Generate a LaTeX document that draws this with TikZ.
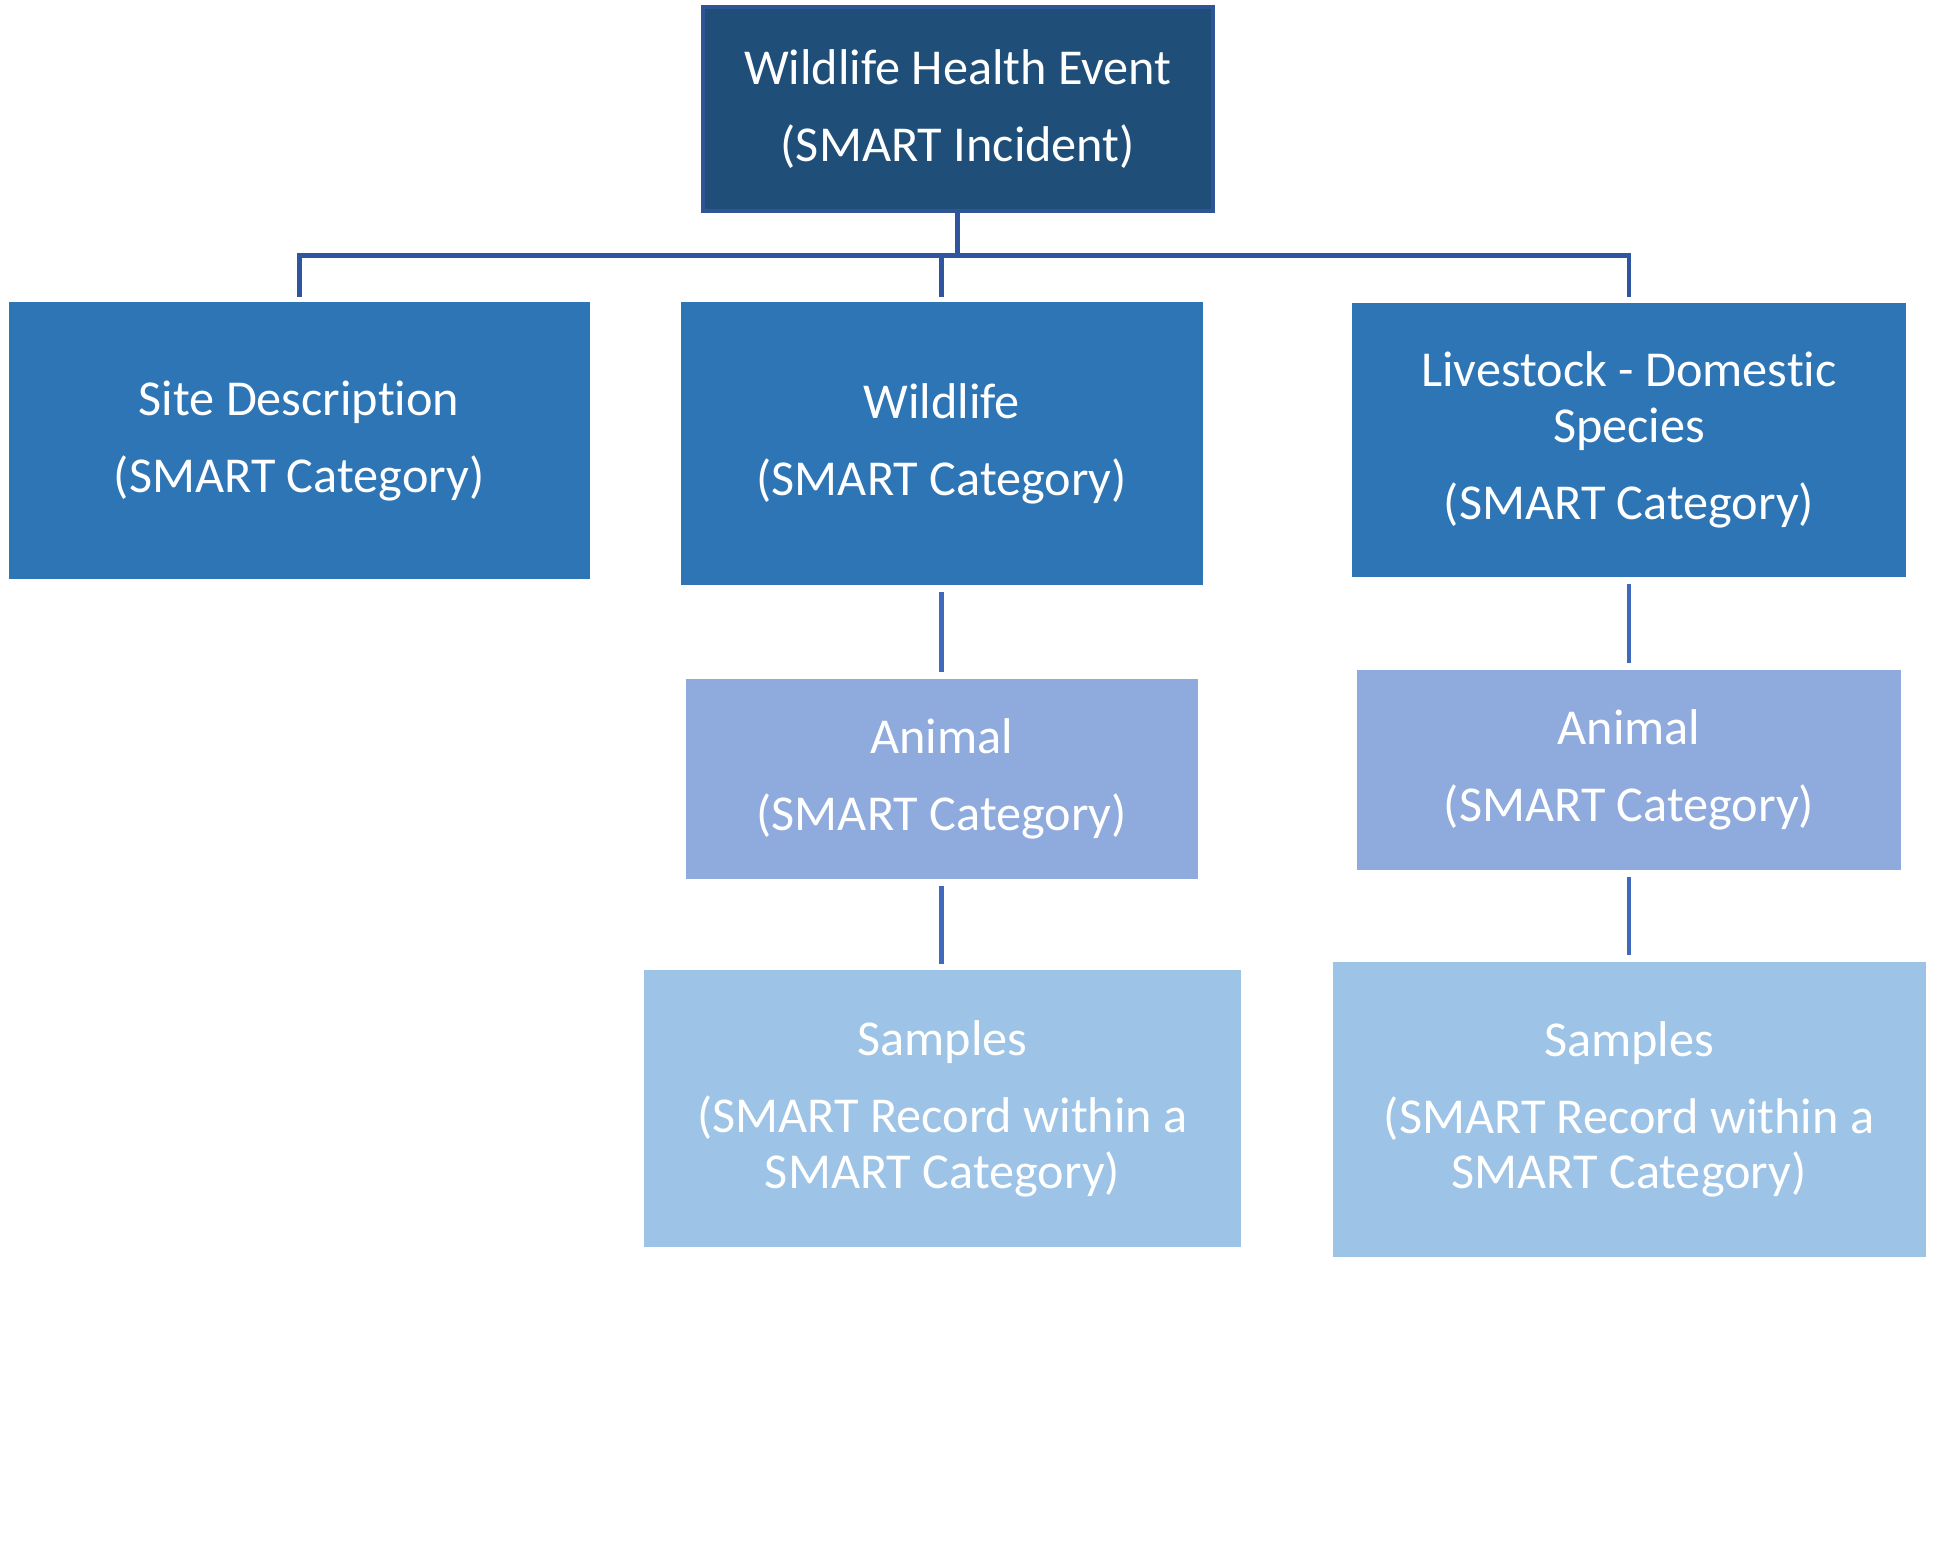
\documentclass[tikz,border=0pt]{standalone}
\usepackage{fontspec}
\setmainfont[RawFeature={-liga;-clig;-calt;-dlig}]{Carlito}
\usepackage{xcolor}
\usepackage{tikz}
\usetikzlibrary{positioning, calc}
\definecolor{eventblue}{HTML}{1F4E79}
\definecolor{eventedge}{HTML}{2F5597}
\definecolor{catblue}{HTML}{2E75B6}
\definecolor{animalblue}{HTML}{8FAADC}
\definecolor{sampleblue}{HTML}{9DC3E6}
\definecolor{busblue}{HTML}{2F55A0}
\definecolor{linkblue}{HTML}{4069BD}
\tikzstyle{box} = [rectangle, text=white, align=center, inner sep=0pt, font=\fontsize{14.3}{15.8}\selectfont]
\tikzstyle{eventbox} = [box, fill=eventblue, draw=eventedge, line width=1.2pt, minimum width=5.10cm, minimum height=2.04cm]
\tikzstyle{catbox} = [box, fill=catblue]
\tikzstyle{animalbox} = [box, fill=animalblue, minimum height=2.0cm]
\tikzstyle{samplebox} = [box, fill=sampleblue]
\tikzstyle{bus} = [draw=busblue, line width=1.4pt]
\tikzstyle{link} = [draw=linkblue, line width=1.4pt, shorten >=0.06cm, shorten <=0.06cm]

\begin{document}
\begin{tikzpicture}[node distance=3.35cm]
        \useasboundingbox (0,0) rectangle (19.38,-15.58);
        % Nodes
        \node (event) [eventbox] at (9.579,-1.088) {Wildlife Health Event\\[6pt](SMART Incident)};
        \node (wild) [catbox, below of=event, xshift=-0.161cm, minimum width=5.22cm, minimum height=2.83cm] {Wildlife\\[6pt](SMART Category)};
        \node (site) [catbox, left of=wild, xshift=-3.077cm, yshift=0.03cm, minimum width=5.81cm, minimum height=2.77cm] {Site Description\\[6pt](SMART Category)};
        \node (live) [catbox, right of=wild, xshift=3.522cm, yshift=0.04cm, minimum width=5.54cm, minimum height=2.74cm] {Livestock - Domestic\\Species\\[6pt](SMART Category)};

        \node (animal1) [animalbox, below of=wild, minimum width=5.12cm] {Animal\\[6pt](SMART Category)};
        \node (samples1) [samplebox, below of=animal1, xshift=0.007cm, yshift=0.05cm, minimum width=5.97cm, minimum height=2.77cm] {Samples\\[6pt](SMART Record within a\\SMART Category)};

        \node (animal2) [animalbox, below of=live, yshift=0.05cm, minimum width=5.44cm] {Animal\\[6pt](SMART Category)};
        \node (samples2) [samplebox, below of=animal2, yshift=-0.045cm, minimum width=5.93cm, minimum height=2.95cm] {Samples\\[6pt](SMART Record within a\\SMART Category)};

        \coordinate (split) at ($(event.south)+(0,-0.43)$);

        % Edges
        \path [bus] (event.south) -- (split);
        \path [bus, shorten <=0.05cm, shorten >=0.05cm] (site.north) |- (split) -| (live.north);
        \path [bus, shorten <=0.05cm] (wild.north) -- (wild.north |- split);

        \path [link] (wild) -- (animal1);
        \path [link] (animal1.south) -- (animal1.south |- samples1.north);
        \path [link] (live) -- (animal2);
        \path [link] (animal2) -- (samples2);

    \end{tikzpicture}
\end{document}
